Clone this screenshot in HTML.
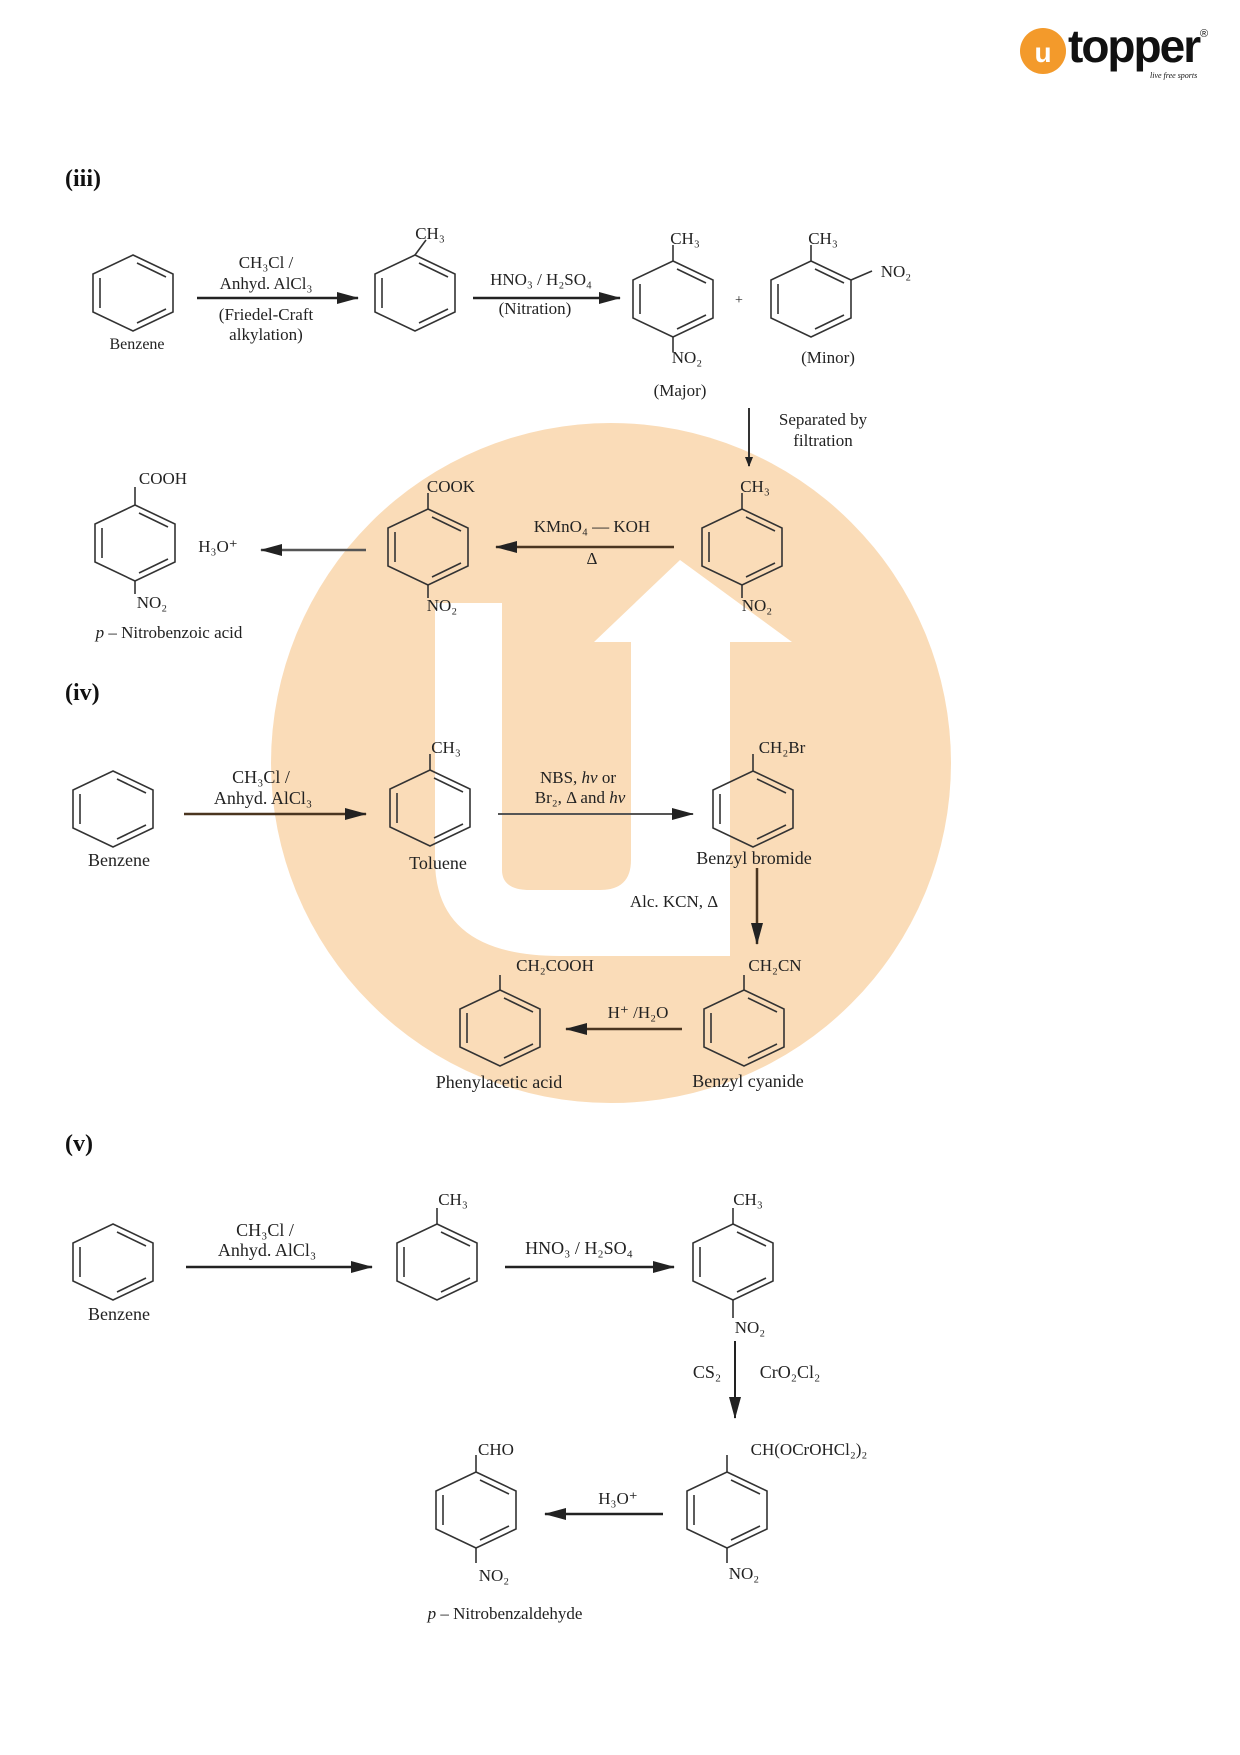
<!DOCTYPE html>
<html><head><meta charset="utf-8"><style>
html,body{margin:0;padding:0;background:#fff;}
svg{display:block;}
text{font-family:"Liberation Serif",serif;fill:#222;}
</style></head><body>
<svg width="1240" height="1755" viewBox="0 0 1240 1755" xmlns="http://www.w3.org/2000/svg">
<defs>
<g id="ring" fill="none" stroke="#333" stroke-width="1.6">
<polygon points="0,-38 40,-19 40,19 0,38 -40,19 -40,-19"/>
<line x1="4" y1="-30" x2="33" y2="-16"/>
<line x1="-33" y1="-15" x2="-33" y2="15"/>
<line x1="33" y1="16" x2="4" y2="30"/>
</g>
<marker id="ah" markerWidth="10" markerHeight="8" refX="9" refY="4" orient="auto" markerUnits="userSpaceOnUse">
<path d="M0,0 L10,4 L0,8 z" fill="#222"/>
</marker>
<marker id="ahb" markerWidth="22" markerHeight="12" refX="21" refY="6" orient="auto" markerUnits="userSpaceOnUse">
<path d="M0,0 L22,6 L0,12 z" fill="#222"/>
</marker>
</defs>

<!-- watermark -->
<circle cx="611" cy="763" r="340" fill="#fadcb8"/>
<path d="M435,603 L502,603 L502,870 Q502,890 530,890 L600,890 Q631,890 631,860 L631,642 L594,642 L680,560 L792,642 L730,642 L730,956 L560,956 Q435,956 435,860 Z" fill="#fff"/>

<!-- logo -->
<circle cx="1043" cy="51" r="23" fill="#f39a2b"/>
<text x="1043" y="62" text-anchor="middle" style="font-family:'Liberation Sans',sans-serif;font-size:28px;font-weight:bold;fill:#fff">u</text>
<text x="1068" y="62" style="font-family:'Liberation Sans',sans-serif;font-size:46px;font-weight:bold;fill:#111;letter-spacing:-2px">topper</text>
<text x="1200" y="37" style="font-family:'Liberation Sans',sans-serif;font-size:11px;fill:#111">®</text>
<text x="1150" y="78" style="font-size:8px;font-style:italic;fill:#111">live free sports</text>

<!-- (iii) -->
<text x="65" y="186" style="font-size:24px;font-weight:bold;fill:#111">(iii)</text>
<g font-size="17" text-anchor="middle">
<use href="#ring" x="133" y="293"/>
<text x="137" y="349" font-size="16">Benzene</text>
<line x1="197" y1="298" x2="358" y2="298" stroke="#222" stroke-width="2.5" marker-end="url(#ahb)"/>
<text x="266" y="268">CH₃Cl /</text>
<text x="266" y="289">Anhyd. AlCl₃</text>
<text x="266" y="320">(Friedel-Craft</text>
<text x="266" y="340">alkylation)</text>
<use href="#ring" x="415" y="293"/><line x1="415" y1="255" x2="426" y2="240" stroke="#333" stroke-width="1.6"/>
<text x="430" y="239">CH₃</text>
<line x1="473" y1="298" x2="620" y2="298" stroke="#222" stroke-width="2.5" marker-end="url(#ahb)"/>
<text x="541" y="285">HNO₃ / H₂SO₄</text>
<text x="535" y="314">(Nitration)</text>
<use href="#ring" x="673" y="299"/><line x1="673" y1="261" x2="673" y2="245" stroke="#333" stroke-width="1.6"/><line x1="673" y1="337" x2="673" y2="352" stroke="#333" stroke-width="1.6"/>
<text x="685" y="244">CH₃</text>
<text x="687" y="363">NO₂</text>
<text x="680" y="396">(Major)</text>
<text x="739" y="304" font-size="14">+</text>
<use href="#ring" x="811" y="299"/><line x1="811" y1="261" x2="811" y2="245" stroke="#333" stroke-width="1.6"/><line x1="851" y1="280" x2="872" y2="271" stroke="#333" stroke-width="1.6"/>
<text x="823" y="244">CH₃</text>
<text x="896" y="277">NO₂</text>
<text x="828" y="363">(Minor)</text>
<line x1="749" y1="408" x2="749" y2="466" stroke="#333" stroke-width="2" marker-end="url(#ah)"/>
<text x="823" y="425">Separated by</text>
<text x="823" y="446">filtration</text>

<use href="#ring" x="742" y="547"/><line x1="742" y1="509" x2="742" y2="493" stroke="#333" stroke-width="1.6"/><line x1="742" y1="585" x2="742" y2="598" stroke="#333" stroke-width="1.6"/>
<text x="755" y="492">CH₃</text>
<text x="757" y="611">NO₂</text>
<line x1="674" y1="547" x2="496" y2="547" stroke="#4a3520" stroke-width="2.5" marker-end="url(#ahb)"/>
<text x="592" y="532">KMnO₄ — KOH</text>
<text x="592" y="564">Δ</text>
<use href="#ring" x="428" y="547"/><line x1="428" y1="509" x2="428" y2="493" stroke="#333" stroke-width="1.6"/><line x1="428" y1="585" x2="428" y2="598" stroke="#333" stroke-width="1.6"/>
<text x="451" y="492">COOK</text>
<text x="442" y="611">NO₂</text>
<line x1="366" y1="550" x2="261" y2="550" stroke="#555" stroke-width="2.5" marker-end="url(#ahb)"/>
<text x="218" y="552">H₃O⁺</text>
<use href="#ring" x="135" y="543"/><line x1="135" y1="505" x2="135" y2="487" stroke="#333" stroke-width="1.6"/><line x1="135" y1="581" x2="135" y2="594" stroke="#333" stroke-width="1.6"/>
<text x="163" y="484">COOH</text>
<text x="152" y="608">NO₂</text>
<text x="169" y="638"><tspan font-style="italic">p</tspan> – Nitrobenzoic acid</text>

<!-- (iv) -->
<text x="65" y="700" text-anchor="start" style="font-size:24px;font-weight:bold;fill:#111">(iv)</text>
<use href="#ring" x="113" y="809"/>
<text x="119" y="866" font-size="18">Benzene</text>
<line x1="184" y1="814" x2="366" y2="814" stroke="#4a3520" stroke-width="2.5" marker-end="url(#ahb)"/>
<text x="261" y="783" font-size="18">CH₃Cl /</text>
<text x="263" y="804" font-size="18">Anhyd. AlCl₃</text>
<use href="#ring" x="430" y="808"/><line x1="430" y1="770" x2="430" y2="754" stroke="#333" stroke-width="1.6"/>
<text x="446" y="753">CH₃</text>
<text x="438" y="869" font-size="18">Toluene</text>
<line x1="498" y1="814" x2="693" y2="814" stroke="#555" stroke-width="2" marker-end="url(#ahb)"/>
<text x="578" y="783">NBS, <tspan font-style="italic">hν</tspan> or</text>
<text x="580" y="803">Br₂, Δ and <tspan font-style="italic">hν</tspan></text>
<use href="#ring" x="753" y="809"/><line x1="753" y1="771" x2="753" y2="754" stroke="#333" stroke-width="1.6"/>
<text x="782" y="753">CH₂Br</text>
<text x="754" y="864" font-size="18">Benzyl bromide</text>
<line x1="757" y1="868" x2="757" y2="944" stroke="#4a3520" stroke-width="2.5" marker-end="url(#ahb)"/>
<text x="674" y="907">Alc. KCN, Δ</text>
<use href="#ring" x="744" y="1028"/><line x1="744" y1="990" x2="744" y2="975" stroke="#333" stroke-width="1.6"/>
<text x="775" y="971">CH₂CN</text>
<text x="748" y="1087" font-size="18">Benzyl cyanide</text>
<line x1="682" y1="1029" x2="566" y2="1029" stroke="#4a3520" stroke-width="2.5" marker-end="url(#ahb)"/>
<text x="638" y="1018">H⁺ /H₂O</text>
<use href="#ring" x="500" y="1028"/><line x1="500" y1="990" x2="500" y2="975" stroke="#333" stroke-width="1.6"/>
<text x="555" y="971">CH₂COOH</text>
<text x="499" y="1088" font-size="18">Phenylacetic acid</text>

<!-- (v) -->
<text x="65" y="1151" text-anchor="start" style="font-size:24px;font-weight:bold;fill:#111">(v)</text>
<use href="#ring" x="113" y="1262"/>
<text x="119" y="1320" font-size="18">Benzene</text>
<line x1="186" y1="1267" x2="372" y2="1267" stroke="#222" stroke-width="2.5" marker-end="url(#ahb)"/>
<text x="265" y="1236" font-size="18">CH₃Cl /</text>
<text x="267" y="1256" font-size="18">Anhyd. AlCl₃</text>
<use href="#ring" x="437" y="1262"/><line x1="437" y1="1224" x2="437" y2="1208" stroke="#333" stroke-width="1.6"/>
<text x="453" y="1205">CH₃</text>
<line x1="505" y1="1267" x2="674" y2="1267" stroke="#222" stroke-width="2.5" marker-end="url(#ahb)"/>
<text x="579" y="1254" font-size="18">HNO₃ / H₂SO₄</text>
<use href="#ring" x="733" y="1262"/><line x1="733" y1="1224" x2="733" y2="1208" stroke="#333" stroke-width="1.6"/><line x1="733" y1="1300" x2="733" y2="1318" stroke="#333" stroke-width="1.6"/>
<text x="748" y="1205">CH₃</text>
<text x="750" y="1333">NO₂</text>
<line x1="735" y1="1341" x2="735" y2="1418" stroke="#222" stroke-width="2" marker-end="url(#ahb)"/>
<text x="707" y="1378" font-size="18">CS₂</text>
<text x="790" y="1378" font-size="18">CrO₂Cl₂</text>
<use href="#ring" x="727" y="1510"/><line x1="727" y1="1472" x2="727" y2="1455" stroke="#333" stroke-width="1.6"/><line x1="727" y1="1548" x2="727" y2="1563" stroke="#333" stroke-width="1.6"/>
<text x="809" y="1455">CH(OCrOHCl₂)₂</text>
<text x="744" y="1579">NO₂</text>
<line x1="663" y1="1514" x2="545" y2="1514" stroke="#222" stroke-width="2.5" marker-end="url(#ahb)"/>
<text x="618" y="1504">H₃O⁺</text>
<use href="#ring" x="476" y="1510"/><line x1="476" y1="1472" x2="476" y2="1455" stroke="#333" stroke-width="1.6"/><line x1="476" y1="1548" x2="476" y2="1563" stroke="#333" stroke-width="1.6"/>
<text x="496" y="1455">CHO</text>
<text x="494" y="1581">NO₂</text>
<text x="505" y="1619"><tspan font-style="italic">p</tspan> – Nitrobenzaldehyde</text>
</g>
</svg>
</body></html>
